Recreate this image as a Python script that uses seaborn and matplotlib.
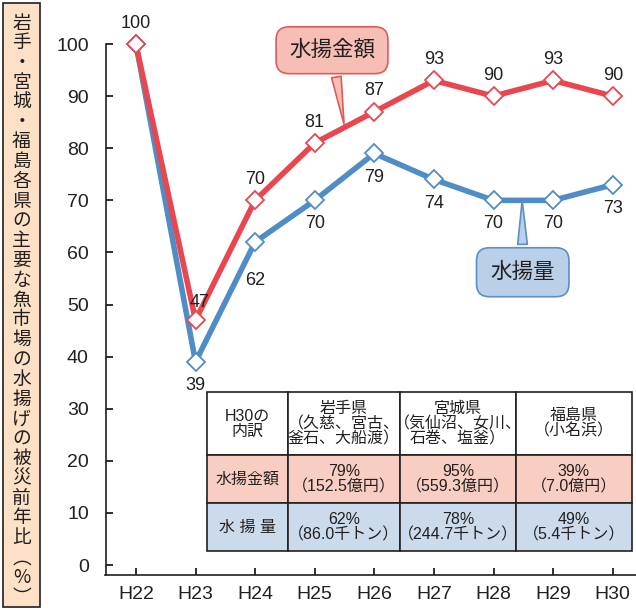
import numpy as np
import pandas as pd
import matplotlib
matplotlib.use("Agg")
import matplotlib.pyplot as plt
from matplotlib.patches import Rectangle
import seaborn as sns

# data
years = ["H22", "H23", "H24", "H25", "H26", "H27", "H28", "H29", "H30"]
kingaku = [100, 47, 70, 81, 87, 93, 90, 93, 90]   # 水揚金額
suryo = [100, 39, 62, 70, 79, 74, 70, 70, 73]     # 水揚量

table_header = ["H30の\n内訳", "岩手県\n（久慈、宮古、\n釜石、大船渡）",
                "宮城県\n（気仙沼、女川、\n石巻、塩釜）", "福島県\n（小名浜）"]
table_kingaku = ["水揚金額", "79%\n（152.5億円）", "95%\n（559.3億円）", "39%\n（7.0億円）"]
table_suryo = ["水 揚 量", "62%\n（86.0千トン）", "78%\n（244.7千トン）", "49%\n（5.4千トン）"]

ylabel = "岩手・宮城・福島各県の主要な魚市場の水揚げの被災前年比︵%︶"

red = "#E8474F"
blue = "#508DC6"
dark = "#231F20"

sns.set_style("ticks")
plt.rcParams["font.family"] = ["Liberation Sans", "Noto Sans CJK JP"]

df = pd.DataFrame({"year": years, "kingaku": kingaku, "suryo": suryo})
df["x"] = np.arange(len(years))

fig = plt.figure(figsize=(6.36, 6.10), dpi=100)
ax = fig.add_axes([105.5 / 636, 1 - 575 / 610, 530.5 / 636, 531 / 610])

sns.lineplot(data=df, x="x", y="suryo", ax=ax, color=blue, lw=4,
             marker="D", markersize=9.5, markerfacecolor="white",
             markeredgecolor=blue, markeredgewidth=1.3, clip_on=False, zorder=3)
sns.lineplot(data=df, x="x", y="kingaku", ax=ax, color=red, lw=4,
             marker="D", markersize=9.5, markerfacecolor="white",
             markeredgecolor=red, markeredgewidth=1.3, clip_on=False, zorder=4)

# value labels
for i, v in enumerate(kingaku):
    off = 13 if i == 1 else 15
    ax.annotate(str(v), (i, v), xytext=(3 if i == 1 else 0, off), textcoords="offset points",
                ha="center", va="center", fontsize=13, color=dark, zorder=5)
for i, v in enumerate(suryo):
    if i == 0:
        continue
    off = -28 if i == 2 else -17
    ax.annotate(str(v), (i, v), xytext=(0, off), textcoords="offset points",
                ha="center", va="center", fontsize=13, color=dark, zorder=5)

ax.set_xlim(-0.51, 8.39)
ax.set_ylim(-1.9, 100)
ax.set_xticks(df["x"])
ax.set_xticklabels(years)
ax.set_yticks(range(0, 101, 10))
ax.set_xlabel("")
ax.set_ylabel("")
ax.tick_params(axis="both", direction="in", length=5, width=1.3, colors=dark,
               labelsize=14)
ax.tick_params(axis="x", pad=8)
ax.tick_params(axis="y", pad=12)
for s in ["top", "right"]:
    ax.spines[s].set_visible(False)
for s in ["left", "bottom"]:
    ax.spines[s].set_linewidth(1.2)
    ax.spines[s].set_color(dark)

# callouts
ax.annotate("水揚金額", xy=(3.5, 84), xytext=(3.29, 98.8), ha="center", va="center",
            fontsize=15.5, color=dark,
            bbox=dict(boxstyle="round,pad=0.6,rounding_size=0.6", fc="#F7BEB6", ec="#E05A5C", lw=1.2),
            arrowprops=dict(arrowstyle="wedge,tail_width=0.45,shrink_factor=0.5",
                            fc="#F7BEB6", ec="#E05A5C", lw=1.2), zorder=6)
ax.annotate("水揚量", xy=(6.48, 70.5), xytext=(6.49, 56.2), ha="center", va="center",
            fontsize=15.5, color=dark,
            bbox=dict(boxstyle="round,pad=0.65,rounding_size=0.6", fc="#B9D0E8", ec="#5B8FC5", lw=1.2),
            arrowprops=dict(arrowstyle="wedge,tail_width=0.45,shrink_factor=0.5",
                            fc="#B9D0E8", ec="#5B8FC5", lw=1.2), zorder=6)

# table
cell_text = [table_header, table_kingaku, table_suryo]
cell_colors = [["white"] * 4, ["#F9CEC2"] * 4, ["#CBDBEC"] * 4]
tb = ax.table(cellText=cell_text, cellColours=cell_colors, cellLoc="center",
              bbox=[(207 - 105.5) / 530.5, (575 - 551) / 531, 425 / 530.5, 159 / 531])
tb.auto_set_font_size(False)
col_w = [81, 112, 116, 116]
row_h = [63, 48, 48]
for (r, c), cell in tb.get_celld().items():
    cell.set_width(col_w[c] / 425)
    cell.set_height(row_h[r] / 159)
    cell.set_linewidth(1.2)
    cell.set_edgecolor(dark)
    cell.get_text().set_fontsize(11.5)
    cell.get_text().set_color(dark)
    cell.get_text().set_linespacing(1.0)
    cell.PAD = 0.01
tb.set_zorder(7)

# vertical y label box
fig.patches.append(Rectangle((3 / 636, 3 / 610), 37 / 636, 604 / 610,
                             transform=fig.transFigure, fc="#FCE1C6", ec=dark, lw=1.2))
for k, ch in enumerate(ylabel):
    y_px = 23 + k * 19.8
    fig.text(21.5 / 636, 1 - y_px / 610, ch, ha="center", va="center",
             fontsize=13.5, color=dark, family=["Noto Sans CJK JP", "DejaVu Sans"])

fig.savefig("out.png", dpi=100)
